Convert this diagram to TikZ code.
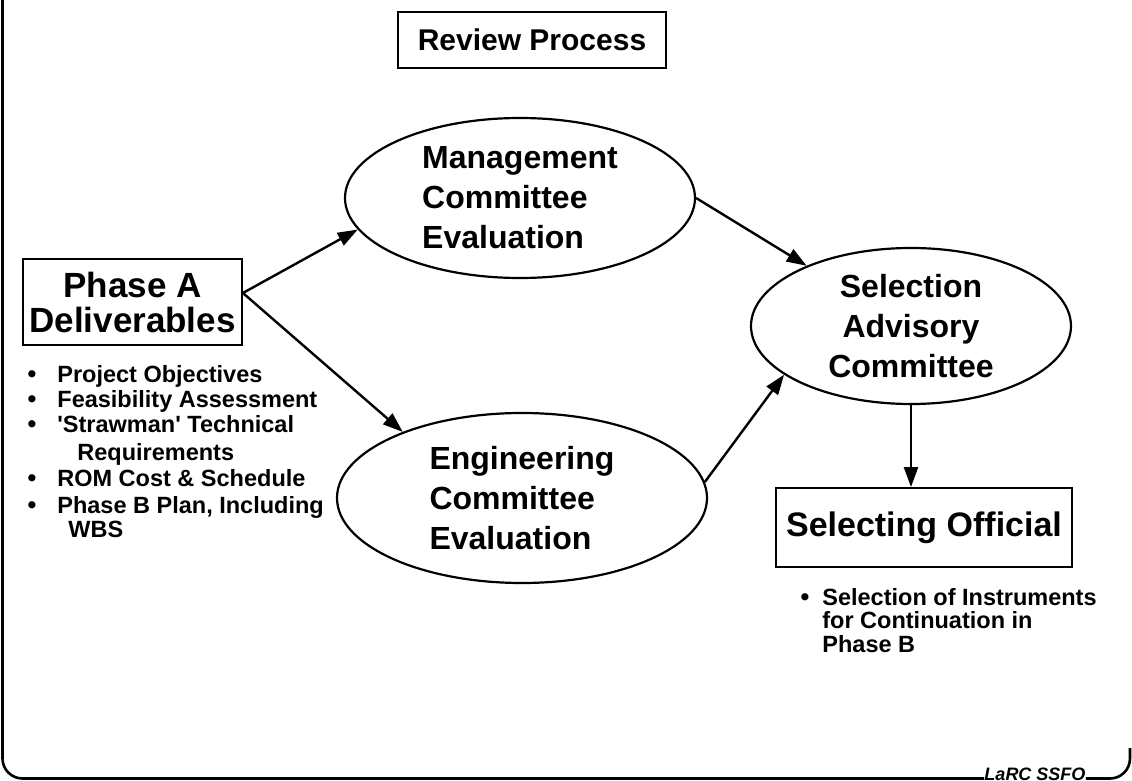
\documentclass[tikz,border=0pt]{standalone}
\usepackage{fontspec}
\setmainfont{Liberation Sans}
\usetikzlibrary{arrows.meta,shapes.geometric,positioning}
\tikzset{
  panel/.style={draw,line width=0.9pt,inner sep=0pt,align=center},
  oval/.style={draw,ellipse,line width=1.1pt,inner sep=0pt,
               font=\fontsize{16}{20}\selectfont\bfseries},
  flow/.style={-{Triangle[length=10pt,width=7pt]},line width=1.2pt},
  item/.style={anchor=base west,inner sep=0pt,
               font=\fontsize{11.75}{12}\selectfont\bfseries},
  dot/.style={anchor=base,inner sep=0pt,
              font=\fontsize{12.5}{12}\selectfont\bfseries},
  border/.style={line width=1.3pt,rounded corners=10pt},
}

\begin{document}
\begin{tikzpicture}[x=0.5pt,y=-0.5pt]
  \useasboundingbox (0,0) rectangle (1132,781);
  % frame with the tag in its lower edge
  \node[anchor=base,inner sep=0pt,font=\fontsize{9}{9}\selectfont\bfseries\itshape]
    (tag) at (1035,780) {LaRC SSFO};
  \coordinate (topleft) at (2.5,-5);
  \coordinate (botleft) at (2.5,778.5);
  \coordinate (botright) at (1130,778.5);
  \coordinate (rightend) at (1130,748);
  \draw[border] (topleft) -- (botleft) -- (tag.west |- botleft);
  \draw[border] (tag.east |- botright) -- (botright) -- (rightend);

  \node[panel,minimum width=134pt,minimum height=28pt,
        font=\fontsize{15}{15}\selectfont\bfseries] (title) at (532,40) {Review Process};
  \node[panel,minimum width=109.5pt,minimum height=43pt,
        font=\fontsize{17.5}{17.5}\selectfont\bfseries] (phaseA) at (132.5,302)
    {Phase A\\Deliverables};
  \node[oval,minimum width=175pt,minimum height=80pt,align=left] (mgmt) at (520,198)
    {Management\\Committee\\Evaluation};
  \node[oval,minimum width=185pt,minimum height=85pt,align=left] (eng) at (522,498)
    {Engineering\\Committee\\Evaluation};
  \node[oval,minimum width=160pt,minimum height=78pt,align=center] (sac) at (911,326)
    {Selection\\Advisory\\Committee};
  \node[panel,minimum width=148pt,minimum height=39.5pt,
        font=\fontsize{17}{17}\selectfont\bfseries] (official) at (924,527.5)
    {Selecting Official};

  % deliverables list
  \foreach \n/\y/\txt in {1/383/Project Objectives,2/408/Feasibility Assessment,
      3/432/\textquotesingle Strawman\textquotesingle{} Technical,
      4/487/ROM Cost \& Schedule,5/513/{Phase B Plan, Including}}{
    \node[dot] (dotA\n) at (32,\y) {\textbullet};
    \node[item] (itemA\n) at (57,\y) {\txt};
  }
  \node[item] (itemA3b) at (77,460) {Requirements};
  \node[item] (itemA5b) at (68,538) {WBS};

  % outcome list
  \node[dot] (dotB) at (805,605) {\textbullet};
  \node[item] (itemB1) at (822,605) {Selection of Instruments};
  \node[item] (itemB2) at (822,628.5) {for Continuation in};
  \node[item] (itemB3) at (822,652) {Phase B};

  % connectors
  \coordinate (fork) at ([yshift=4.5pt]phaseA.east);
  \draw[flow] (fork) -- (mgmt.191);
  \draw[flow] (fork) -- (eng.151);
  \draw[flow] (mgmt.east) -- (sac.150);
  \draw[flow] (eng.5) -- (sac.201);
  \draw[flow] (sac.south) -- (sac.south |- official.north);
\end{tikzpicture}
\end{document}
